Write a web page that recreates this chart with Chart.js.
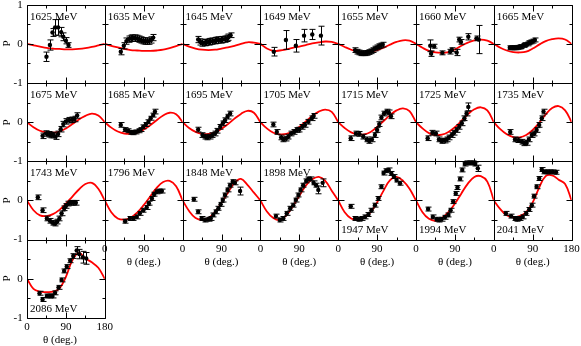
<!DOCTYPE html>
<html><head><meta charset="utf-8">
<script src="https://cdn.jsdelivr.net/npm/chart.js@4"></script>
<style>
body{margin:0;background:#fff;width:581px;height:346px;overflow:hidden;position:relative;font-family:"Liberation Serif","Times New Roman",serif;}
canvas{position:absolute;left:0;top:0;}
.lbl{position:absolute;font-size:11px;line-height:13px;white-space:nowrap;color:#000;}
</style></head><body>
<script>
// ---------------- data ----------------
const energies = [1625,1635,1645,1649,1655,1660,1665,
                  1675,1685,1695,1705,1715,1725,1735,
                  1743,1796,1848,1898,1947,1994,2041,
                  2086];
const curveTheta = [0,15,30,45,60,75,90,105,120,135,150,165,180];
const curveP = [
 [0,-0.04,-0.07,-0.10,-0.12,-0.13,-0.14,-0.14,-0.13,-0.11,-0.08,-0.04,0],
 [0,-0.05,-0.09,-0.13,-0.16,-0.17,-0.18,-0.18,-0.17,-0.15,-0.11,-0.06,0],
 [0,-0.07,-0.12,-0.15,-0.16,-0.15,-0.12,-0.09,-0.05,0.00,0.04,0.03,0],
 [0,-0.12,-0.18,-0.17,-0.14,-0.10,-0.07,-0.03,0.01,0.04,0.06,0.05,0],
 [0,-0.08,-0.15,-0.20,-0.22,-0.21,-0.16,-0.10,-0.02,0.05,0.09,0.08,0],
 [0,-0.10,-0.18,-0.22,-0.23,-0.21,-0.14,-0.05,0.03,0.09,0.11,0.08,0],
 [0,-0.10,-0.17,-0.21,-0.22,-0.20,-0.12,-0.02,0.07,0.12,0.14,0.11,0],
 [0,-0.13,-0.22,-0.26,-0.27,-0.24,-0.16,-0.05,0.07,0.16,0.22,0.17,0],
 [0,-0.14,-0.24,-0.29,-0.30,-0.27,-0.19,-0.08,0.05,0.17,0.24,0.20,0],
 [0,-0.15,-0.25,-0.30,-0.30,-0.26,-0.17,-0.05,0.09,0.21,0.29,0.24,0],
 [0,-0.16,-0.27,-0.31,-0.30,-0.24,-0.12,0.02,0.16,0.27,0.32,0.26,0],
 [0,-0.15,-0.26,-0.31,-0.31,-0.25,-0.12,0.03,0.18,0.30,0.35,0.28,0],
 [0,-0.16,-0.28,-0.33,-0.32,-0.25,-0.13,0.03,0.20,0.33,0.38,0.30,0],
 [0,-0.18,-0.31,-0.38,-0.39,-0.33,-0.20,-0.02,0.20,0.36,0.41,0.30,0],
 [0,-0.25,-0.38,-0.40,-0.35,-0.24,-0.08,0.10,0.28,0.42,0.45,0.30,0],
 [0,-0.30,-0.46,-0.49,-0.44,-0.31,-0.12,0.10,0.32,0.47,0.50,0.36,0],
 [0,-0.27,-0.45,-0.50,-0.45,-0.30,-0.06,0.20,0.45,0.55,0.40,0.20,0],
 [0,-0.28,-0.45,-0.50,-0.38,-0.15,0.12,0.38,0.54,0.60,0.50,0.25,0],
 [0,-0.30,-0.46,-0.50,-0.44,-0.30,-0.05,0.25,0.52,0.60,0.50,0.30,0],
 [0,-0.30,-0.47,-0.52,-0.45,-0.30,-0.08,0.18,0.43,0.60,0.62,0.48,0],
 [0,-0.22,-0.38,-0.43,-0.40,-0.30,-0.05,0.33,0.62,0.64,0.53,0.42,0],
 [0,-0.26,-0.33,-0.34,-0.33,-0.25,0.05,0.47,0.66,0.52,0.42,0.28,0]
];
const expTheta = [
 [45,53,59,65,72,79,84,90,96],
 [37,44,50,55,60,64,69,74,78,83,88,92,97,102,107,112],
 [36,41,46,51,55,60,64,69,74,78,83,88,92,97,102,106,111],
 [31,59,82,101,120,140],
 [39,44,48,53,57,62,66,71,76,80,85,90,94,98,103],
 [33,35,42,61,79,83,94,100,104,121,140,145],
 [37,42,46,51,55,60,64,69,73,78,82,87,91,95],
 [36,44,50,56,61,66,72,78,84,90,97,104,110,116],
 [37,47,54,61,66,72,78,83,89,95,101,106,112,116],
 [36,46,52,57,63,69,75,80,87,93,98,104,110],
 [30,38,48,53,59,65,71,78,84,90,97,103,111,119,123],
 [29,41,49,58,66,72,78,85,90,95,100,106,112,117,122],
 [27,38,46,53,59,66,71,76,83,88,94,100,106,112,117,121],
 [38,49,57,65,71,76,81,88,94,99,105,111,115],
 [25,36,46,53,59,65,70,75,80,86,90,96,101,107,113],
 [47,58,66,74,81,89,97,102,109,114,120,126,132],
 [26,36,44,52,60,65,71,77,83,88,93,98,104,110,116,121,133],
 [36,45,53,61,69,76,82,88,93,99,106,111,116,123,129,134,144],
 [29,39,47,54,62,70,77,85,93,100,105,111,117,123,129,135,143],
 [28,39,48,54,59,67,75,80,86,92,96,102,107,113,119,125,131,137,143],
 [28,40,49,54,61,67,75,82,88,93,99,105,111,116,122,129,136,144],
 [29,36,46,53,59,65,73,80,86,92,100,107,115,121,129,137]
];
const expP = [
 [-0.33,-0.03,0.29,0.42,0.42,0.30,0.18,0.08,-0.03],
 [-0.20,-0.05,0.07,0.12,0.14,0.15,0.15,0.14,0.12,0.10,0.08,0.07,0.07,0.07,0.10,0.16],
 [0.11,0.05,0.02,0.03,0.04,0.05,0.06,0.07,0.08,0.09,0.10,0.10,0.11,0.12,0.14,0.17,0.22],
 [-0.20,0.10,-0.05,0.21,0.24,0.21],
 [-0.16,-0.20,-0.22,-0.24,-0.24,-0.24,-0.23,-0.21,-0.19,-0.16,-0.12,-0.09,-0.06,-0.04,-0.02],
 [-0.05,-0.25,-0.06,-0.23,-0.20,-0.15,-0.22,0.11,0.05,0.18,0.14,0.11],
 [-0.10,-0.10,-0.10,-0.10,-0.09,-0.08,-0.07,-0.04,-0.02,0.00,0.03,0.05,0.07,0.10],
 [-0.35,-0.29,-0.31,-0.33,-0.33,-0.37,-0.30,-0.18,-0.05,0.02,0.05,0.06,0.08,0.17],
 [-0.07,-0.19,-0.22,-0.26,-0.27,-0.25,-0.22,-0.19,-0.12,-0.06,0.01,0.10,0.18,0.27],
 [-0.19,-0.33,-0.37,-0.39,-0.37,-0.33,-0.29,-0.22,-0.12,-0.03,0.05,0.14,0.22],
 [-0.06,-0.25,-0.39,-0.44,-0.42,-0.37,-0.29,-0.25,-0.20,-0.19,-0.12,-0.07,0.01,0.10,0.16],
 [-0.41,-0.29,-0.30,-0.37,-0.44,-0.48,-0.44,-0.33,-0.20,-0.05,0.12,0.22,0.27,0.25,0.15],
 [-0.41,-0.27,-0.29,-0.44,-0.48,-0.47,-0.44,-0.39,-0.33,-0.27,-0.20,-0.12,-0.03,0.10,0.22,0.39],
 [-0.25,-0.44,-0.46,-0.50,-0.54,-0.53,-0.44,-0.33,-0.29,-0.20,-0.07,0.10,0.27],
 [0.08,-0.25,-0.46,-0.52,-0.57,-0.59,-0.54,-0.46,-0.33,-0.20,-0.14,-0.08,-0.06,-0.06,-0.06],
 [-0.53,-0.46,-0.46,-0.42,-0.33,-0.25,-0.18,-0.07,0.05,0.16,0.22,0.24,0.24],
 [0.03,-0.29,-0.46,-0.50,-0.48,-0.46,-0.37,-0.29,-0.20,-0.10,0.01,0.14,0.27,0.39,0.48,0.45,0.24],
 [-0.40,-0.50,-0.46,-0.33,-0.20,-0.12,0.01,0.14,0.27,0.39,0.50,0.55,0.55,0.45,0.39,0.27,0.45],
 [-0.15,-0.46,-0.48,-0.46,-0.42,-0.36,-0.25,-0.12,0.05,0.35,0.70,0.76,0.78,0.69,0.61,0.52,0.44],
 [-0.22,-0.42,-0.48,-0.50,-0.48,-0.43,-0.37,-0.25,-0.03,0.18,0.33,0.55,0.78,0.93,0.96,0.96,0.96,0.93,0.82],
 [-0.33,-0.40,-0.46,-0.48,-0.46,-0.42,-0.33,-0.23,-0.12,0.11,0.35,0.56,0.79,0.73,0.73,0.73,0.73,0.72],
 [-0.37,-0.53,-0.44,-0.44,-0.44,-0.36,-0.22,-0.03,0.20,0.31,0.46,0.58,0.72,0.63,0.55,0.52]
];
const expErr = [
 [0.12,0.13,0.10,0.20,0.20,0.12,0.10,0.08,0.06],
 [0.08,0.08,0.08,0.08,0.08,0.08,0.08,0.08,0.08,0.08,0.08,0.08,0.08,0.08,0.08,0.08],
 [0.08,0.08,0.08,0.08,0.08,0.08,0.08,0.08,0.08,0.08,0.08,0.08,0.08,0.08,0.08,0.08,0.06],
 [0.11,0.24,0.16,0.16,0.13,0.24],
 [0.06,0.06,0.06,0.06,0.06,0.06,0.06,0.06,0.06,0.06,0.06,0.06,0.06,0.06,0.06],
 [0.15,0.07,0.05,0.05,0.06,0.05,0.08,0.06,0.06,0.08,0.06,0.36],
 [0.05,0.05,0.05,0.05,0.05,0.05,0.05,0.05,0.05,0.05,0.05,0.05,0.05,0.05],
 [0.07,0.07,0.07,0.07,0.07,0.07,0.07,0.07,0.07,0.07,0.07,0.07,0.07,0.07],
 [0.06,0.05,0.05,0.05,0.05,0.05,0.05,0.05,0.05,0.05,0.05,0.05,0.05,0.06],
 [0.06,0.06,0.06,0.06,0.06,0.06,0.06,0.06,0.06,0.06,0.06,0.06,0.06],
 [0.06,0.06,0.06,0.06,0.06,0.06,0.06,0.06,0.06,0.06,0.06,0.06,0.06,0.06,0.06],
 [0.06,0.06,0.06,0.06,0.06,0.06,0.06,0.06,0.06,0.06,0.06,0.06,0.06,0.06,0.06],
 [0.06,0.06,0.06,0.06,0.06,0.06,0.06,0.06,0.06,0.06,0.06,0.06,0.06,0.06,0.06,0.10],
 [0.06,0.06,0.06,0.06,0.06,0.06,0.06,0.06,0.06,0.06,0.06,0.06,0.06],
 [0.06,0.06,0.06,0.06,0.06,0.06,0.06,0.06,0.06,0.06,0.06,0.06,0.06,0.06,0.06],
 [0.05,0.05,0.05,0.05,0.05,0.05,0.05,0.05,0.05,0.05,0.05,0.05,0.05],
 [0.05,0.05,0.05,0.05,0.05,0.05,0.05,0.05,0.05,0.05,0.05,0.05,0.05,0.05,0.05,0.05,0.10],
 [0.05,0.05,0.05,0.05,0.05,0.05,0.05,0.05,0.05,0.05,0.05,0.05,0.05,0.05,0.05,0.10,0.10],
 [0.05,0.05,0.05,0.05,0.05,0.05,0.05,0.05,0.05,0.05,0.05,0.05,0.05,0.05,0.05,0.05,0.05],
 [0.05,0.05,0.05,0.05,0.05,0.05,0.05,0.05,0.05,0.05,0.05,0.05,0.05,0.05,0.05,0.05,0.05,0.05,0.08],
 [0.05,0.05,0.05,0.05,0.05,0.05,0.05,0.05,0.05,0.05,0.05,0.05,0.05,0.05,0.05,0.05,0.05,0.05],
 [0.05,0.05,0.05,0.05,0.05,0.05,0.05,0.05,0.05,0.05,0.05,0.06,0.10,0.12,0.15,0.15]
];
const xTickLabels = ['0','90','180'];
const yTickLabels = ['-1','0','1'];
const xMajorTicks = [0, 90, 180], xMinorTicks = [45, 135];
const yMajorTicks = [-1, 0, 1], yMinorTicks = [-0.5, 0.5];
const xTitle = 'θ (deg.)';
const yTitle = 'P';

// ---------------- layout ----------------
const W = 581, H = 346;
const NCOL = 7;
const originX = 27, originY = 4.7, panelW = 77.8, panelH = 78.3;
const AXW = 25; // reserved size for axes that carry tick labels
const bottomLabelPanels = [18,19,20,21];
const FONT = '"Liberation Serif","Times New Roman",serif';
Chart.defaults.font.family = FONT;
Chart.defaults.font.size = 11;
Chart.defaults.color = '#000';

const errorBars = {
  id: 'errorBars',
  afterDatasetsDraw(chart) {
    const xs = chart.scales.x, ys = chart.scales.y, ctx = chart.ctx;
    ctx.save();
    ctx.strokeStyle = '#000';
    ctx.lineWidth = 1;
    chart.data.datasets.forEach(ds => {
      if (!ds.withErrors) return;
      ds.data.forEach(p => {
        const px = Math.round(xs.getPixelForValue(p.x)) + 0.5;
        const y1 = ys.getPixelForValue(p.y - p.err);
        const y2 = ys.getPixelForValue(p.y + p.err);
        ctx.beginPath();
        ctx.moveTo(px, y1); ctx.lineTo(px, y2);
        ctx.moveTo(px - 3, y1); ctx.lineTo(px + 3, y1);
        ctx.moveTo(px - 3, y2); ctx.lineTo(px + 3, y2);
        ctx.stroke();
      });
    });
    ctx.restore();
  }
};

// frame with inward ticks on all four sides
const frameTicks = {
  id: 'frameTicks',
  afterDraw(chart) {
    const xs = chart.scales.x, ys = chart.scales.y, a = chart.chartArea, ctx = chart.ctx;
    const l = Math.round(a.left) + 0.5, r = Math.round(a.right) + 0.5;
    const t = Math.round(a.top) + 0.5, b = Math.round(a.bottom) + 0.5;
    ctx.save();
    ctx.strokeStyle = '#000';
    ctx.lineWidth = 1;
    ctx.beginPath();
    ctx.rect(l, t, r - l, b - t);
    const xt = (vals, len) => vals.forEach(v => {
      const px = Math.round(xs.getPixelForValue(v)) + 0.5;
      ctx.moveTo(px, b); ctx.lineTo(px, b - len);
      ctx.moveTo(px, t); ctx.lineTo(px, t + len);
    });
    const yt = (vals, len) => vals.forEach(v => {
      const py = Math.round(ys.getPixelForValue(v)) + 0.5;
      ctx.moveTo(l, py); ctx.lineTo(l + len, py);
      ctx.moveTo(r, py); ctx.lineTo(r - len, py);
    });
    xt(xMajorTicks, 6); xt(xMinorTicks, 3);
    yt(yMajorTicks, 6); yt(yMinorTicks, 3);
    ctx.stroke();
    ctx.restore();
  }
};

energies.forEach((energy, i) => {
  const c = i % NCOL, r = Math.floor(i / NCOL);
  const L = originX + c * panelW, T = originY + r * panelH;
  const isColBottom = (c === 0 && r === 3) || (c > 0 && r === 2);
  const showY = c === 0;
  const cv = document.createElement('canvas');
  cv.width = W; cv.height = H;
  document.body.appendChild(cv);

  const xLabels = v => {
    if (v === 180 && !(c === 0 || c === NCOL - 1)) return '';
    return xTickLabels[xMajorTicks.indexOf(v)] ?? '';
  };
  const yLabels = v => {
    if (v === 1 && r !== 0) return '';
    return yTickLabels[yMajorTicks.indexOf(v)] ?? '';
  };

  const curve = curveTheta.map((t, k) => ({ x: t, y: curveP[i][k] }));
  const pts = expTheta[i].map((t, k) => ({ x: t, y: expP[i][k], err: expErr[i][k] }));

  new Chart(cv, {
    type: 'scatter',
    data: {
      datasets: [
        { type: 'line', data: curve, borderColor: 'rgb(255,0,0)', borderWidth: 1.8,
          pointRadius: 0, tension: 0.4, fill: false, order: 2 },
        { type: 'scatter', data: pts, withErrors: true, backgroundColor: '#000', borderColor: '#000',
          pointRadius: 2.2, borderWidth: 0, order: 1 }
      ]
    },
    options: {
      responsive: false, animation: false, devicePixelRatio: 1, events: [],
      layout: { autoPadding: false,
        padding: {
          left: L - (showY ? AXW : 0), top: T,
          right: W - L - panelW,
          bottom: H - T - panelH - (isColBottom ? AXW : 0) } },
      plugins: { legend: { display: false }, tooltip: { enabled: false }, title: { display: false } },
      scales: {
        x: {
          type: 'linear', position: 'bottom', min: 0, max: 180,
          ticks: { stepSize: 90, autoSkip: false, maxRotation: 0, display: isColBottom, padding: 2.5,
                   font: { family: FONT, size: 11 }, color: '#000', callback: xLabels },
          grid: { display: false, drawTicks: false },
          border: { display: false },
          afterFit: s => { s.height = isColBottom ? AXW : 0; s.paddingLeft = s.paddingRight = s.paddingTop = s.paddingBottom = 0; }
        },
        y: {
          type: 'linear', position: 'left', min: -1, max: 1,
          ticks: { stepSize: 1, autoSkip: false, display: showY, padding: 4.3,
                   font: { family: FONT, size: 11 }, color: '#000', callback: yLabels },
          grid: { display: false, drawTicks: false },
          border: { display: false },
          afterFit: s => { s.width = showY ? AXW : 0; s.paddingLeft = s.paddingRight = s.paddingTop = s.paddingBottom = 0; }
        }
      }
    },
    plugins: [errorBars, frameTicks]
  });

  // energy label
  const lab = document.createElement('div');
  lab.className = 'lbl';
  lab.textContent = energy + ' MeV';
  lab.style.left = (L + 3) + 'px';
  lab.style.top = (bottomLabelPanels.includes(i) ? (T + panelH - 16.2) : (T + 5.1)) + 'px';
  document.body.appendChild(lab);

  // x axis title under column bottoms
  if (isColBottom) {
    const xt = document.createElement('div');
    xt.className = 'lbl';
    xt.textContent = xTitle;
    xt.style.width = '80px'; xt.style.textAlign = 'center';
    const cx = c === 0 ? L + 33 : L + panelW / 2;
    xt.style.left = (cx - 40) + 'px';
    xt.style.top = (T + panelH + 15) + 'px';
    document.body.appendChild(xt);
  }
  // y axis title for first column
  if (c === 0) {
    const yt = document.createElement('div');
    yt.className = 'lbl';
    yt.textContent = yTitle;
    yt.style.width = '20px'; yt.style.textAlign = 'center';
    yt.style.left = (6 - 10) + 'px';
    yt.style.top = (T + panelH / 2 - 6.5) + 'px';
    yt.style.transform = 'rotate(-90deg)';
    document.body.appendChild(yt);
  }
});
</script>
</body></html>
